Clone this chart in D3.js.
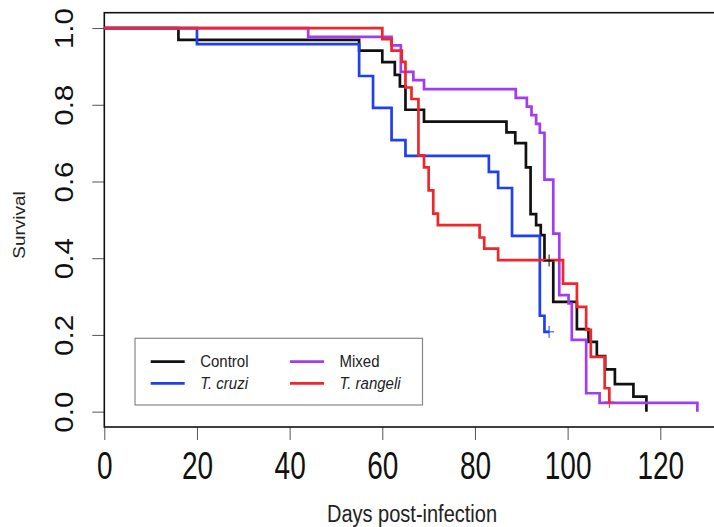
<!DOCTYPE html>
<html>
<head>
<meta charset="utf-8">
<script src="https://cdn.jsdelivr.net/npm/d3@7"></script>
<style>
  body { margin: 0; background: #fff; }
  text { font-family: "Liberation Sans", Arial, sans-serif; }
</style>
</head>
<body>
<div id="viz"></div>
<script>
// ****************** Data section ***************************
var groups = ["Control", "T. cruzi", "Mixed", "T. rangeli"];

var controlTime = [0, 16, 55, 60, 62.7, 63.8, 65, 69, 86.8, 88.7, 91, 92, 93.2, 94.2, 95, 96.9, 102, 104.5, 106.3, 108.1, 110.2, 114.2, 117];
var controlSurv = [1, 0.969, 0.941, 0.911, 0.878, 0.848, 0.787, 0.756, 0.728, 0.700, 0.637, 0.515, 0.486, 0.46, 0.394, 0.286, 0.215, 0.182, 0.145, 0.11, 0.072, 0.039, 0];

var cruziTime = [0, 20, 55, 58, 62, 65, 83, 85, 88, 94, 95, 96];
var cruziSurv = [1, 0.958, 0.875, 0.792, 0.708, 0.667, 0.625, 0.583, 0.458, 0.25, 0.208, 0.208];

var mixedTime = [0, 44, 62, 64, 66.7, 69, 88.8, 91.2, 92.2, 93.2, 94, 95, 96.9, 98.2, 100.2, 100.9, 104, 106.9, 128];
var mixedSurv = [1, 0.977, 0.955, 0.886, 0.864, 0.841, 0.818, 0.795, 0.773, 0.75, 0.727, 0.605, 0.464, 0.304, 0.282, 0.187, 0.048, 0.023, 0];

var rangeliTime = [0, 60, 62, 64.2, 65, 66.3, 67.8, 69, 70, 71, 72, 81, 82, 85, 99, 102, 104, 105, 108, 109];
var rangeliSurv = [1, 0.971, 0.941, 0.912, 0.845, 0.815, 0.668, 0.637, 0.577, 0.516, 0.486, 0.454, 0.425, 0.395, 0.334, 0.273, 0.213, 0.143, 0.061, 0.025];

// censored observations ("+" marks)
var censorGroup = ["Control", "T. cruzi", "T. rangeli"];
var censorTime = [96, 96, 109];
var censorSurv = [0.394, 0.208, 0.025];

var xTicks = [0, 20, 40, 60, 80, 100, 120];
var yTicks = [0, 0.2, 0.4, 0.6, 0.8, 1.0];

// ****************** Setup section ***************************
var width = 714,
    height = 527;

var plotLeft = 104.3, plotTop = 12.7, plotBottom = 427, plotRight = 718;
var stretch = 1.15;                                                              // text in the picture is a bit taller than wide

var svg = d3.select("#viz")
    .append("svg")
    .attr("width", width)
    .attr("height", height);

var x = d3.scaleLinear().domain([0, 120]).range([plotLeft, 660.3]);
var y = d3.scaleLinear().domain([-0.04, 1.04]).range([plotBottom, plotTop]);

var color = d3.scaleOrdinal()
    .domain(groups)
    .range(["#111111", "#1f3ff0", "#a23cf0", "#f0262a"]);

var series = [
  {name: "Control", t: controlTime, s: controlSurv},
  {name: "T. cruzi", t: cruziTime, s: cruziSurv},
  {name: "Mixed", t: mixedTime, s: mixedSurv},
  {name: "T. rangeli", t: rangeliTime, s: rangeliSurv}
];

// ****************** Axis section ***************************
var yAxis = svg.append("g")
    .attr("transform", "translate(" + plotLeft + ",0)")
    .call(d3.axisLeft(y).tickValues(yTicks).tickSize(12).tickFormat(d3.format(".1f")));

yAxis.select(".domain").remove();
yAxis.selectAll("line").attr("stroke", "#555");
yAxis.selectAll("text")
    .attr("x", 0)
    .attr("y", 0)
    .attr("dy", 0)
    .attr("transform", "translate(-31,0) scale(1,1.18) rotate(-90)")
    .attr("text-anchor", "middle")
    .style("font-size", "25px")
    .attr("fill", "#111");

var xAxis = svg.append("g")
    .attr("transform", "translate(0," + plotBottom + ")")
    .call(d3.axisBottom(x).tickValues(xTicks).tickSize(13));

xAxis.select(".domain").remove();
xAxis.selectAll("line").attr("stroke", "#555");
xAxis.selectAll("text")
    .attr("y", 0)
    .attr("dy", 0)
    .attr("transform", "translate(0,52) scale(1,1.38)")
    .style("font-size", "28px")
    .attr("fill", "#111");

// plot frame
svg.append("rect")
    .attr("x", plotLeft)
    .attr("y", plotTop)
    .attr("width", plotRight - plotLeft)
    .attr("height", plotBottom - plotTop)
    .attr("fill", "none")
    .attr("stroke", "#111")
    .attr("stroke-width", 1.6);

svg.append("text")
    .attr("transform", "translate(25,225) scale(1," + stretch + ") rotate(-90)")
    .attr("text-anchor", "middle")
    .style("font-size", "16.5px")
    .attr("fill", "#222")
    .text("Survival");

svg.append("text")
    .attr("transform", "translate(412,522) scale(1," + stretch + ")")
    .attr("text-anchor", "middle")
    .style("font-size", "20px")
    .attr("fill", "#222")
    .text("Days post-infection");

// ****************** Curve section ***************************
var line = d3.line()
    .x(function(d) { return x(d[0]); })
    .y(function(d) { return y(d[1]); })
    .curve(d3.curveStepAfter);

svg.append("g")
    .selectAll("path")
    .data(series)
    .enter().append("path")
      .attr("d", function(d) { return line(d3.zip(d.t, d.s)); })
      .attr("fill", "none")
      .attr("stroke", function(d) { return color(d.name); })
      .attr("stroke-width", 2.7);                                                 //set line thickness here

var marks = svg.append("g")
    .selectAll("g")
    .data(d3.range(censorTime.length))
    .enter().append("g")
      .attr("transform", function(i) {
        return "translate(" + x(censorTime[i]) + "," + y(censorSurv[i]) + ")";
      })
      .attr("stroke", function(i) { return color(censorGroup[i]); })
      .attr("stroke-width", 1);

marks.append("line").attr("x1", -5).attr("x2", 5);
marks.append("line").attr("y1", -6).attr("y2", 6);

// ****************** Legend section ***************************
var legend = svg.append("g");

legend.append("rect")
    .attr("x", 135)
    .attr("y", 338.3)
    .attr("width", 287.5)
    .attr("height", 66.7)
    .attr("fill", "#fff")
    .attr("stroke", "#888")
    .attr("stroke-width", 1.2);

var legX = [150.7, 150.7, 290, 290],
    legY = [361.7, 383.3, 361.7, 383.3];

var item = legend.selectAll("g")
    .data(groups)
    .enter().append("g")
      .attr("transform", function(d, i) { return "translate(" + legX[i] + "," + legY[i] + ")"; });

item.append("line")
    .attr("x1", 0)
    .attr("x2", 34)
    .attr("stroke", function(d) { return color(d); })
    .attr("stroke-width", 2.7);

item.append("text")
    .attr("transform", "translate(49.5,5.5) scale(1," + stretch + ")")
    .style("font-size", "15px")
    .style("font-style", function(d) { return d.indexOf("T.") === 0 ? "italic" : "normal"; })
    .attr("fill", "#222")
    .text(function(d) { return d; });
</script>
</body>
</html>
